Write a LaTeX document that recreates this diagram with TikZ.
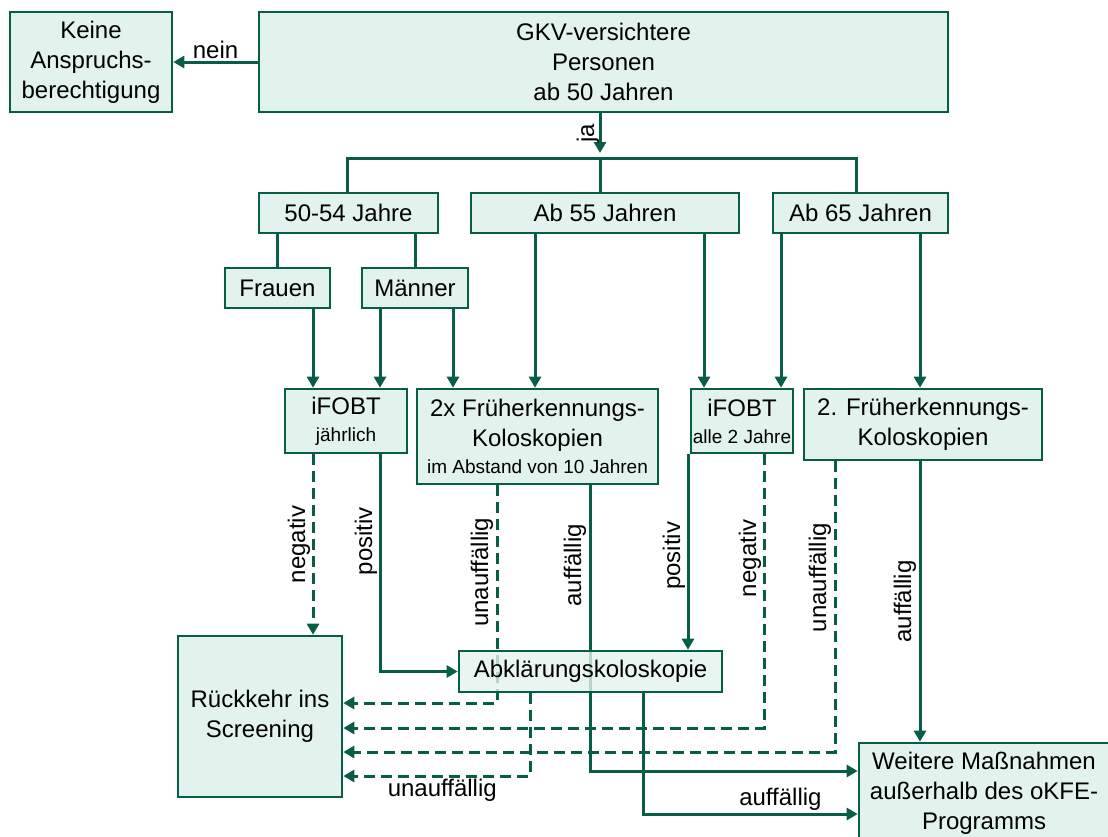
\documentclass[tikz,border=0pt]{standalone}
\usepackage{fontspec}
\setmainfont{Liberation Sans}
\usetikzlibrary{arrows.meta,calc}
\definecolor{kgreen}{RGB}{6,94,72}
\definecolor{kfill}{RGB}{226,242,236}
\pgfdeclarelayer{background}
\pgfsetlayers{background,main}
\newcommand{\kleintxt}{\fontsize{19}{23}\selectfont}

\begin{document}
\begin{tikzpicture}[x=1pt, y=-1pt, font=\fontsize{24}{30}\selectfont,
  box/.style={draw=kgreen, fill=kfill, line width=2.6pt, align=center, inner sep=0pt},
  conn/.style={draw=kgreen, line width=3pt},
  arr/.style={conn, -{Triangle[length=11pt,width=12pt]}},
  dasharr/.style={arr, dash pattern=on 11pt off 6pt},
  lbl/.style={rotate=90, inner sep=1pt}]
% one unit is one pixel of the 1108 x 836 sheet, y runs downwards
\clip (0,0) rectangle (1108,836);
\node[box, minimum width=162pt, minimum height=100pt] (keine) at (91,62) {Keine\\Anspruchs-\\berechtigung};
\node[box, minimum width=689pt, minimum height=100pt] (gkv) at (603.5,62) {GKV-versichtere\\Personen\\ab 50 Jahren};
\node[box, minimum width=179pt, minimum height=40pt] (j50) at (348.5,213) {50-54 Jahre};
\node[box, minimum width=268pt, minimum height=40pt] (j55) at (605,213) {Ab 55 Jahren};
\node[box, minimum width=175pt, minimum height=40pt] (j65) at (860.5,213) {Ab 65 Jahren};
\node[box, minimum width=105pt, minimum height=40pt] (frauen) at (277.5,288) {Frauen};
\node[box, minimum width=106pt, minimum height=40pt] (maenner) at (415,288) {Männer};
\node[box, minimum width=122pt, minimum height=64pt] (ifobtA) at (346,421) {iFOBT\\[-3pt]{\kleintxt jährlich}};
\node[box, minimum width=241pt, minimum height=95pt] (koloA) at (537.5,436.5) {2x Früherkennungs-\\Koloskopien\\[-3pt]{\kleintxt im Abstand von 10 Jahren}};
\node[box, minimum width=102pt, minimum height=64pt] (ifobtB) at (742,421) {iFOBT\\[-3pt]{\kleintxt alle 2 Jahre}};
\node[box, minimum width=238pt, minimum height=71pt] (koloB) at (923,424.5) {2. Früherkennungs-\\Koloskopien};
\node[box, minimum width=263pt, minimum height=41pt, fill opacity=0.8, text opacity=1] (abkl) at (590.5,671.5) {Abklärungskoloskopie};
\node[box, minimum width=164pt, minimum height=161pt] (rueck) at (260,716.5) {Rückkehr ins\\Screening};
\node[box, minimum width=250pt, minimum height=100pt] (weitere) at (984,793) {Weitere Maßnahmen\\außerhalb des oKFE-\\Programms};
\coordinate (split) at (600,158);

\begin{pgfonlayer}{background}
\draw[arr] (gkv.west) -- (keine.east) node[midway, above, inner sep=2pt] {nein};
\draw[arr] (gkv.south -| split) -- ([yshift=5pt]split) node[xshift=-12pt, lbl, midway] {ja};
\draw[conn] (j50.north -| 347,0) |- (split) -| (j65.north -| 856,0);
\draw[conn] (split) -- (split |- j55.north);
\draw[conn] (frauen.north |- j50.south) -- (frauen.north);
\draw[conn] (maenner.north |- j50.south) -- (maenner.north);
% arrows straight down into the test boxes
\foreach \a/\b/\s in {frauen/ifobtA/35.5, maenner/ifobtA/-35, maenner/koloA/38,
                      j55/koloA/-70, j55/ifobtB/99, j65/ifobtB/-79.5, j65/koloB/59.5}
  \draw[arr] ([xshift=\s pt]\a.south) -- ([xshift=\s pt]\a.south |- \b.north);
% results
\draw[dasharr] ([xshift=-33pt]ifobtA.south) -- ([xshift=-33pt]ifobtA.south |- rueck.north)
  node[xshift=-14pt, lbl, midway] {negativ};
\draw[arr] ([xshift=34pt]ifobtA.south) |- (abkl.west)
  node[xshift=-14pt, lbl, pos=0.2] {positiv};
\draw[dasharr] ([xshift=-40.5pt]koloA.south) |- ([yshift=13.5pt]rueck.east)
  node[xshift=-15pt, lbl, pos=0.2] {unauffällig};
\draw[arr] ([xshift=52.5pt]koloA.south) |- ([yshift=22pt]weitere.west)
  node[xshift=-15pt, lbl, pos=0.14] {auffällig};
\draw[arr] ([xshift=-54pt]ifobtB.south) -- ([xshift=-54pt]ifobtB.south |- abkl.north)
  node[xshift=-14pt, lbl, pos=0.52] {positiv};
\draw[dasharr] ([xshift=22pt]ifobtB.south) |- ([yshift=-11.5pt]rueck.east)
  node[xshift=-14pt, lbl, pos=0.19] {negativ};
\draw[dasharr] ([xshift=-88pt]koloB.south) |- ([yshift=-35.5pt]rueck.east)
  node[xshift=-15pt, lbl, pos=0.2] {unauffällig};
\draw[arr] ([xshift=-3pt]koloB.south) -- ([xshift=-3pt]koloB.south |- weitere.north)
  node[xshift=-15pt, lbl, pos=0.5] {auffällig};
\draw[dasharr] ([xshift=-60.5pt]abkl.south) |- ([yshift=-59.5pt]rueck.east)
  node[pos=0.735, below, inner sep=2pt] {unauffällig};
\draw[arr] ([xshift=52.5pt]abkl.south) |- ([yshift=-21pt]weitere.west)
  node[pos=0.82, above, inner sep=2pt] {auffällig};
\end{pgfonlayer}
\end{tikzpicture}
\end{document}
